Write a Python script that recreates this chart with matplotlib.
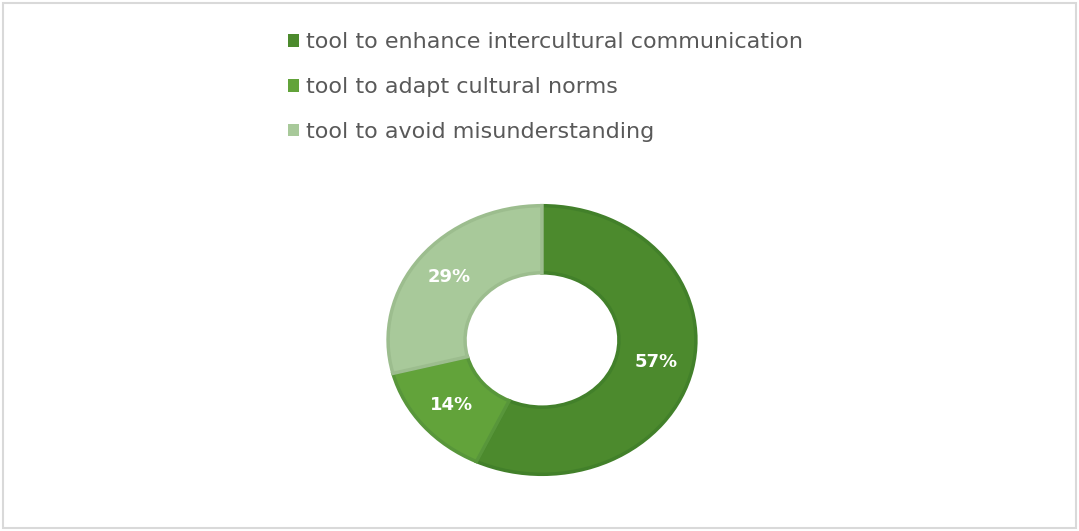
import matplotlib.pyplot as plt
from matplotlib.patches import Rectangle

categories = ['tool to enhance intercultural communication',
              'tool to adapt cultural norms',
              'tool to avoid misunderstanding']
shares = [57, 14, 29]
colors = ['#4c8a2d', '#62a33a', '#a8c99a']
edges = ['#42802a', '#58963a', '#9cbd8e']

fig = plt.figure(figsize=(10.79, 5.31), dpi=100)
fig.patch.set_facecolor('white')

# light frame round the chart area
fig.patches.append(Rectangle((0.003, 0.006), 0.994, 0.988, transform=fig.transFigure,
                             fill=False, edgecolor='#d9d9d9', linewidth=1.5))

ax = fig.add_axes([0.3568, 0.1017, 0.291, 0.516])
wedges, texts, autotexts = ax.pie(
    shares, colors=colors, startangle=90, counterclock=False,
    autopct='%.0f%%', pctdistance=0.76,
    wedgeprops=dict(width=0.5, linewidth=2.5),
    textprops=dict(color='white', fontsize=13, fontweight='bold'))
for w, ec in zip(wedges, edges):
    w.set_edgecolor(ec)
ax.set_aspect('auto')
ax.set_xlim(-1.02, 1.02)
ax.set_ylim(-1.02, 1.02)

leg = fig.legend(wedges, categories, loc='upper left', bbox_to_anchor=(0.248, 0.977),
                 frameon=False, fontsize=16, labelcolor='#595959',
                 handlelength=0.5, handleheight=0.5, handletextpad=0.35,
                 labelspacing=1.12)
for h in leg.legend_handles:
    h.set_linewidth(0)

plt.savefig('out.png', dpi=100)
